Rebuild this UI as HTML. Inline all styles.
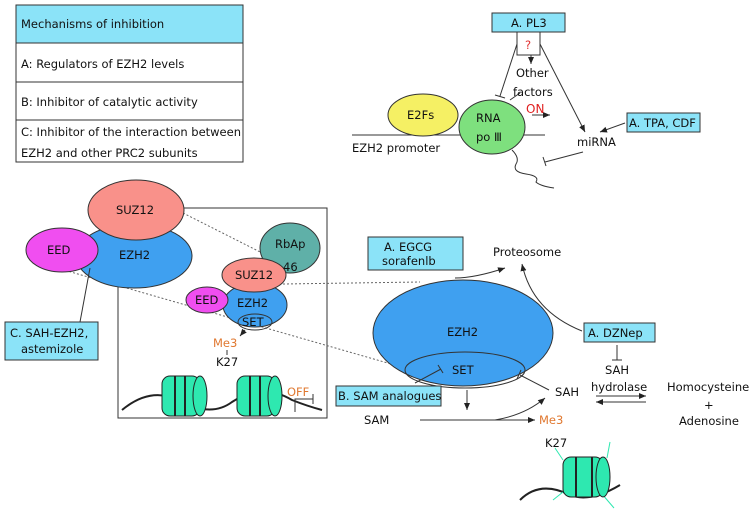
<!DOCTYPE html>
<html><head><meta charset="utf-8"><style>
html,body{margin:0;padding:0;background:#fff}
svg{display:block;font-family:"DejaVu Sans","Liberation Sans",sans-serif}
text{font-size:11.5px;fill:#111}
</style></head><body>
<svg width="754" height="524" viewBox="0 0 754 524">
<defs>
<marker id="ar" markerWidth="8" markerHeight="8" refX="7" refY="4" orient="auto"><path d="M0,1 L7,4 L0,7z" fill="#222"/></marker>
</defs>
<g>
<rect x="16" y="5" width="227" height="38" fill="#8be3f8" stroke="#333"/>
<rect x="16" y="43" width="227" height="119" fill="#fff" stroke="#333"/>
<line x1="16" y1="82" x2="243" y2="82" stroke="#333"/><line x1="16" y1="120" x2="243" y2="120" stroke="#333"/>
<text x="21" y="28">Mechanisms of inhibition</text>
<text x="21" y="68">A: Regulators of EZH2 levels</text>
<text x="21" y="106">B: Inhibitor of catalytic activity</text>
<text x="21" y="136">C: Inhibitor of the interaction between</text>
<text x="21" y="157">EZH2 and other PRC2 subunits</text>
</g>
<g stroke="#333" fill="none">
<line x1="352" y1="135" x2="462" y2="135"/><line x1="522" y1="135" x2="545" y2="135"/>
<line x1="517" y1="44" x2="500" y2="96"/><line x1="495" y1="95" x2="505" y2="98"/>
<line x1="540" y1="44" x2="585" y2="132" marker-end="url(#ar)"/>
<line x1="531" y1="55" x2="531" y2="64" marker-end="url(#ar)"/>
<line x1="520" y1="93" x2="510" y2="100"/>
<line x1="532" y1="115" x2="550" y2="115" marker-end="url(#ar)"/>
<line x1="625" y1="123" x2="600" y2="132" marker-end="url(#ar)"/>
<line x1="583" y1="152" x2="545" y2="162"/><line x1="543" y1="157" x2="546" y2="166"/>
<path d="M512,150 q8,8 4,14 q-4,8 10,10 q14,2 10,8 q4,4 18,6"/>
</g>
<rect x="492" y="13" width="73" height="19" fill="#8be3f8" stroke="#333"/>
<text x="511" y="27">A. PL3</text>
<rect x="517" y="32" width="23" height="23" fill="#fff" stroke="#333"/>
<text x="525" y="49" style="fill:#e03030">?</text>
<text x="516" y="77">Other</text><text x="513" y="96">factors</text>
<text x="526" y="113" style="fill:#e02020;font-size:12px">ON</text>
<ellipse cx="423" cy="115" rx="35" ry="21" fill="#f5f064" stroke="#333"/>
<text x="407" y="119">E2Fs</text>
<ellipse cx="492" cy="127" rx="33" ry="27" fill="#7ee07e" stroke="#333"/>
<text x="476" y="122">RNA</text><text x="476" y="141">po Ⅲ</text>
<text x="352" y="152">EZH2 promoter</text>
<text x="577" y="146">miRNA</text>
<rect x="627" y="113" width="73" height="19" fill="#8be3f8" stroke="#333"/>
<text x="629" y="127">A. TPA, CDF</text>
<rect x="118" y="208" width="209" height="210" fill="none" stroke="#333"/>
<g stroke="#666" stroke-dasharray="2,2" fill="none">
<line x1="183" y1="213" x2="272" y2="258"/>
<line x1="50" y1="266" x2="405" y2="368"/>
<line x1="283" y1="284" x2="420" y2="282"/>
</g>
<g>
<ellipse cx="134" cy="256" rx="58" ry="32" fill="#3fa0f0" stroke="#333"/>
<ellipse cx="136" cy="210" rx="48" ry="30" fill="#f9918a" stroke="#333"/>
<ellipse cx="62" cy="250" rx="36" ry="22" fill="#f04ef0" stroke="#333"/>
<text x="116" y="214">SUZ12</text><text x="119" y="259">EZH2</text><text x="47" y="254">EED</text>
</g>
<line x1="90" y1="268" x2="80" y2="322" stroke="#333"/>
<rect x="5" y="322" width="93" height="38" fill="#8be3f8" stroke="#333"/>
<text x="10" y="337">C. SAH-EZH2,</text><text x="21" y="353">astemizole</text>
<g>
<ellipse cx="290" cy="248" rx="30" ry="25" fill="#5fb0a8" stroke="#333"/>
<ellipse cx="255" cy="305" rx="32" ry="22" fill="#3fa0f0" stroke="#333"/>
<ellipse cx="254" cy="275" rx="32" ry="17" fill="#f9918a" stroke="#333"/>
<ellipse cx="207" cy="300" rx="21" ry="13" fill="#f04ef0" stroke="#333"/>
<ellipse cx="255" cy="322" rx="17" ry="8" fill="none" stroke="#333"/>
<text x="275" y="248">RbAp</text><text x="283" y="271">46</text>
<text x="235" y="279">SUZ12</text><text x="195" y="304">EED</text><text x="237" y="307">EZH2</text><text x="242" y="326">SET</text>
</g>
<line x1="245" y1="330" x2="240" y2="336" stroke="#333" marker-end="url(#ar)"/>
<text x="213" y="347" style="fill:#e07830">Me3</text><line x1="227" y1="350" x2="227" y2="355" stroke="#333"/>
<text x="216" y="366">K27</text>
<g>
<path d="M122,410 q30,-25 60,-8 q30,15 50,0 q30,-20 60,-2 q15,6 30,10" fill="none" stroke="#222" stroke-width="2"/>
<g fill="#2ee8b0" stroke="#222">
<rect x="162" y="376" width="38" height="40" rx="8"/><ellipse cx="200" cy="396" rx="7" ry="20"/>
<rect x="237" y="376" width="38" height="40" rx="8"/><ellipse cx="275" cy="396" rx="7" ry="20"/>
</g>
<path d="M175,376 v40 M185,376 v40 M250,376 v40 M260,376 v40" stroke="#222" stroke-width="2"/>
</g>
<text x="287" y="396" style="fill:#e07830">OFF</text>
<path d="M295,412 v-13 h18 M313,394 v10" fill="none" stroke="#333"/>
<rect x="368" y="237" width="95" height="33" fill="#8be3f8" stroke="#333"/>
<text x="384" y="251">A. EGCG</text><text x="382" y="265">sorafenlb</text>
<text x="493" y="256">Proteosome</text>
<path d="M455,278 q20,0 50,-10" fill="none" stroke="#333" marker-end="url(#ar)"/>
<ellipse cx="463" cy="333" rx="90" ry="53" fill="#3fa0f0" stroke="#333"/>
<ellipse cx="465" cy="370" rx="60" ry="18" fill="none" stroke="#333"/>
<text x="447" y="336">EZH2</text><text x="452" y="374">SET</text>
<path d="M582,331 q-50,-20 -60,-67" fill="none" stroke="#333" marker-end="url(#ar)"/>
<rect x="584" y="323" width="71" height="19" fill="#8be3f8" stroke="#333"/>
<text x="588" y="337">A. DZNep</text>
<line x1="617" y1="345" x2="617" y2="360" stroke="#333"/><line x1="612" y1="360" x2="622" y2="360" stroke="#333"/>
<text x="605" y="374">SAH</text><text x="591" y="391">hydrolase</text>
<line x1="596" y1="396" x2="646" y2="396" stroke="#333" marker-end="url(#ar)"/>
<line x1="646" y1="402" x2="596" y2="402" stroke="#333" marker-end="url(#ar)"/>
<text x="667" y="391">Homocysteine</text><text x="704" y="409">+</text><text x="679" y="425">Adenosine</text>
<text x="555" y="396">SAH</text>
<line x1="549" y1="390" x2="520" y2="375" stroke="#333"/><line x1="517" y1="379" x2="521" y2="370" stroke="#333"/>
<line x1="415" y1="383" x2="441" y2="369" stroke="#333"/><line x1="438" y1="365" x2="443" y2="373" stroke="#333"/>
<rect x="336" y="386" width="105" height="20" fill="#8be3f8" stroke="#333"/>
<text x="338" y="400">B. SAM analogues</text>
<line x1="467" y1="390" x2="467" y2="410" stroke="#333" marker-end="url(#ar)"/>
<text x="364" y="424">SAM</text>
<line x1="420" y1="420" x2="535" y2="420" stroke="#333" marker-end="url(#ar)"/>
<path d="M495,420 q30,-5 50,-22" fill="none" stroke="#333" marker-end="url(#ar)"/>
<text x="539" y="424" style="fill:#e07830">Me3</text>
<text x="545" y="447">K27</text>
<g>
<path d="M520,500 q20,-20 50,-5 q20,8 50,-10" fill="none" stroke="#222" stroke-width="2"/>
<path d="M563,460 l-8,-12 M607,458 l3,-16 M563,492 l-10,8 M602,494 l12,14" stroke="#2ee8b0"/>
<rect x="563" y="457" width="40" height="40" rx="8" fill="#2ee8b0" stroke="#222"/><ellipse cx="603" cy="477" rx="7" ry="20" fill="#2ee8b0" stroke="#222"/>
<path d="M576,457 v40 M592,457 v40" stroke="#222" stroke-width="2"/>
</g>
</svg>
</body></html>
